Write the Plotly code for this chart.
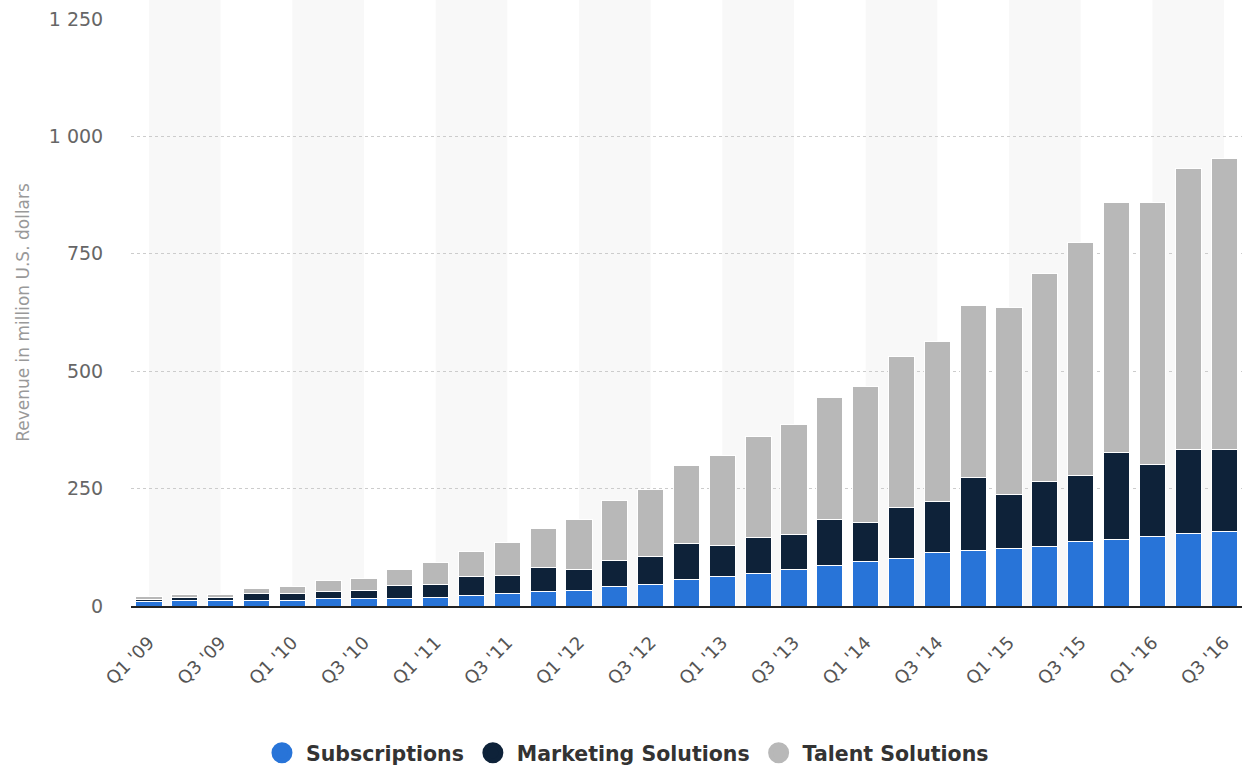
import plotly.graph_objects as go

quarters = [
    "Q1 '09", "Q2 '09", "Q3 '09", "Q4 '09",
    "Q1 '10", "Q2 '10", "Q3 '10", "Q4 '10",
    "Q1 '11", "Q2 '11", "Q3 '11", "Q4 '11",
    "Q1 '12", "Q2 '12", "Q3 '12", "Q4 '12",
    "Q1 '13", "Q2 '13", "Q3 '13", "Q4 '13",
    "Q1 '14", "Q2 '14", "Q3 '14", "Q4 '14",
    "Q1 '15", "Q2 '15", "Q3 '15", "Q4 '15",
    "Q1 '16", "Q2 '16", "Q3 '16",
]

subscriptions = [10, 11, 11, 11, 11, 15, 15, 15, 18, 23, 26, 30, 33, 42, 46, 57,
                 62, 70, 77, 87, 94, 102, 114, 118, 122, 126, 138, 142, 147, 154, 158]
marketing = [3, 7, 7, 16, 16, 16, 19, 28, 28, 39, 39, 51, 44, 55, 59, 76,
             67, 75, 75, 98, 83, 107, 108, 155, 115, 140, 139, 184, 155, 179, 175]
talent = [8, 7, 7, 11, 15, 23, 24, 35, 47, 55, 71, 84, 107, 127, 143, 167,
          191, 216, 235, 259, 290, 322, 341, 367, 398, 441, 498, 533, 557, 598, 621]

series_names = ["Subscriptions", "Marketing Solutions", "Talent Solutions"]
series_colors = ["#2874d8", "#0e2239", "#b8b8b8"]
tick_labels = quarters[::2]
y_ticks = [0, 250, 500, 750, 1000, 1250]

FONT = "DejaVu Sans, Verdana, sans-serif"

fig = go.Figure()
for name, vals, color in zip(series_names, [subscriptions, marketing, talent], series_colors):
    fig.add_trace(go.Bar(
        x=quarters, y=vals, name=name, showlegend=False,
        marker=dict(color=color, line=dict(color="#ffffff", width=1)),
    ))
    # round legend keys
    fig.add_trace(go.Scatter(
        x=[None], y=[None], mode="markers", name=name,
        marker=dict(color=color, size=22, symbol="circle",
                    line=dict(color=color, width=5)),
    ))

# alternating light column bands, two quarters wide
shapes = []
for start in range(0, len(quarters) - 1, 4):
    shapes.append(dict(
        type="rect", xref="x", yref="paper",
        x0=start, x1=start + 2, y0=0, y1=1.035,
        fillcolor="#f8f8f8", line=dict(width=0), layer="below",
    ))

fig.update_layout(
    width=1242, height=767,
    margin=dict(l=131, r=0, t=19, b=161),
    barmode="stack", bargap=0.27,
    plot_bgcolor="rgba(0,0,0,0)", paper_bgcolor="#ffffff",
    separators=". ",
    font=dict(family=FONT, color="#666666"),
    shapes=shapes,
    showlegend=True,
    legend=dict(
        orientation="h", xref="container", yref="container",
        x=0.504, xanchor="center", y=0.0183, yanchor="middle",
        font=dict(size=20.5, color="#333333", family=FONT, weight="bold"),
        itemsizing="trace", itemwidth=38, traceorder="normal",
    ),
    xaxis=dict(
        type="category", range=[-0.5, len(quarters) - 0.5],
        tickvals=tick_labels, ticktext=tick_labels, tickangle=-45,
        tickfont=dict(size=18, color="#555555"),
        ticks="outside", ticklen=17, tickcolor="rgba(0,0,0,0)",
        showgrid=False, showline=True, linecolor="#222222", linewidth=2,
        automargin=False,
    ),
    yaxis=dict(
        range=[0, 1250], tickvals=y_ticks, tickformat=",",
        tickfont=dict(size=19, color="#666666"),
        ticks="outside", ticklen=23, tickcolor="rgba(0,0,0,0)",
        showgrid=True, gridcolor="#cccccc", griddash="dot", gridwidth=1,
        zeroline=False, automargin=False,
        title=dict(text="Revenue in million U.S. dollars",
                   font=dict(size=17, color="#999999"), standoff=14),
    ),
)

fig.write_html("out.html")
